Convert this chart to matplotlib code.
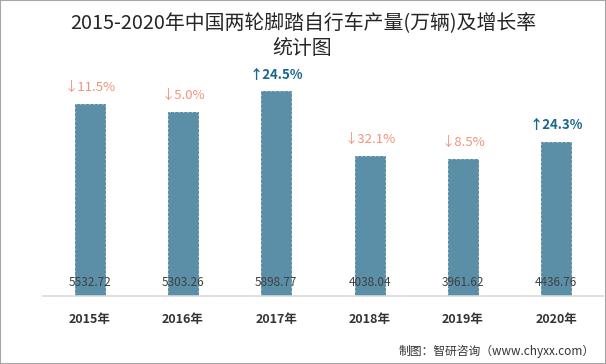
import matplotlib
matplotlib.use('Agg')
import matplotlib.pyplot as plt
from matplotlib.patches import Rectangle

plt.rcParams['font.family'] = ['Noto Sans CJK SC', 'DejaVu Sans']

years = ['2015年', '2016年', '2017年', '2018年', '2019年', '2020年']
output = [5532.72, 5303.26, 5898.77, 4038.04, 3961.62, 4436.76]
growth = [-11.5, -5.0, 24.5, -32.1, -8.5, 24.3]

fig = plt.figure(figsize=(6.06, 3.64), dpi=100)
fig.patches.append(Rectangle((0, 0), 1, 1, transform=fig.transFigure,
                             fill=False, edgecolor='#a6a6a6', linewidth=1.5))

ax = fig.add_axes([43 / 606, 68 / 364, 560 / 606, 236 / 364])
x = range(len(years))
ax.bar(x, output, width=0.32, color='#5b8fa8', edgecolor='#4f83a0',
       linewidth=0.6, linestyle='--', zorder=2)
ax.set_xlim(-0.5, 5.5)
ax.set_ylim(0, 6800)

for s in ['top', 'left', 'right']:
    ax.spines[s].set_visible(False)
ax.spines['bottom'].set_color('#d9d9d9')
ax.spines['bottom'].set_linewidth(1.2)
ax.set_yticks([])
ax.set_xticks(list(x))
ax.set_xticklabels(years, fontsize=9, fontweight='bold', color='#333333')
ax.tick_params(axis='x', length=0, pad=12)

for i, (v, g) in enumerate(zip(output, growth)):
    ax.text(i, 380, f'{v:.2f}', ha='center', va='center', fontsize=8.5,
            color='#404040', zorder=3)
    if g < 0:
        ax.text(i, v + 480, f'↓{abs(g):.1f}%', ha='center', va='center',
                fontsize=9.5, color='#f4937a')
    else:
        ax.text(i, v + 480, f'↑{g:.1f}%', ha='center', va='center',
                fontsize=9.5, color='#17678f', fontweight='bold')

fig.text(303 / 606, 1 - 24 / 364, '2015-2020年中国两轮脚踏自行车产量(万辆)及增长率',
         ha='center', va='center', fontsize=14.3, color='#262626')
fig.text(302 / 606, 1 - 49 / 364, '统计图', ha='center', va='center',
         fontsize=14.3, color='#262626')
fig.text(595 / 606, 1 - 351 / 364, '制图：智研咨询（www.chyxx.com）',
         ha='right', va='center', fontsize=8.5, color='#333333')

fig.savefig('out.png', dpi=100)
